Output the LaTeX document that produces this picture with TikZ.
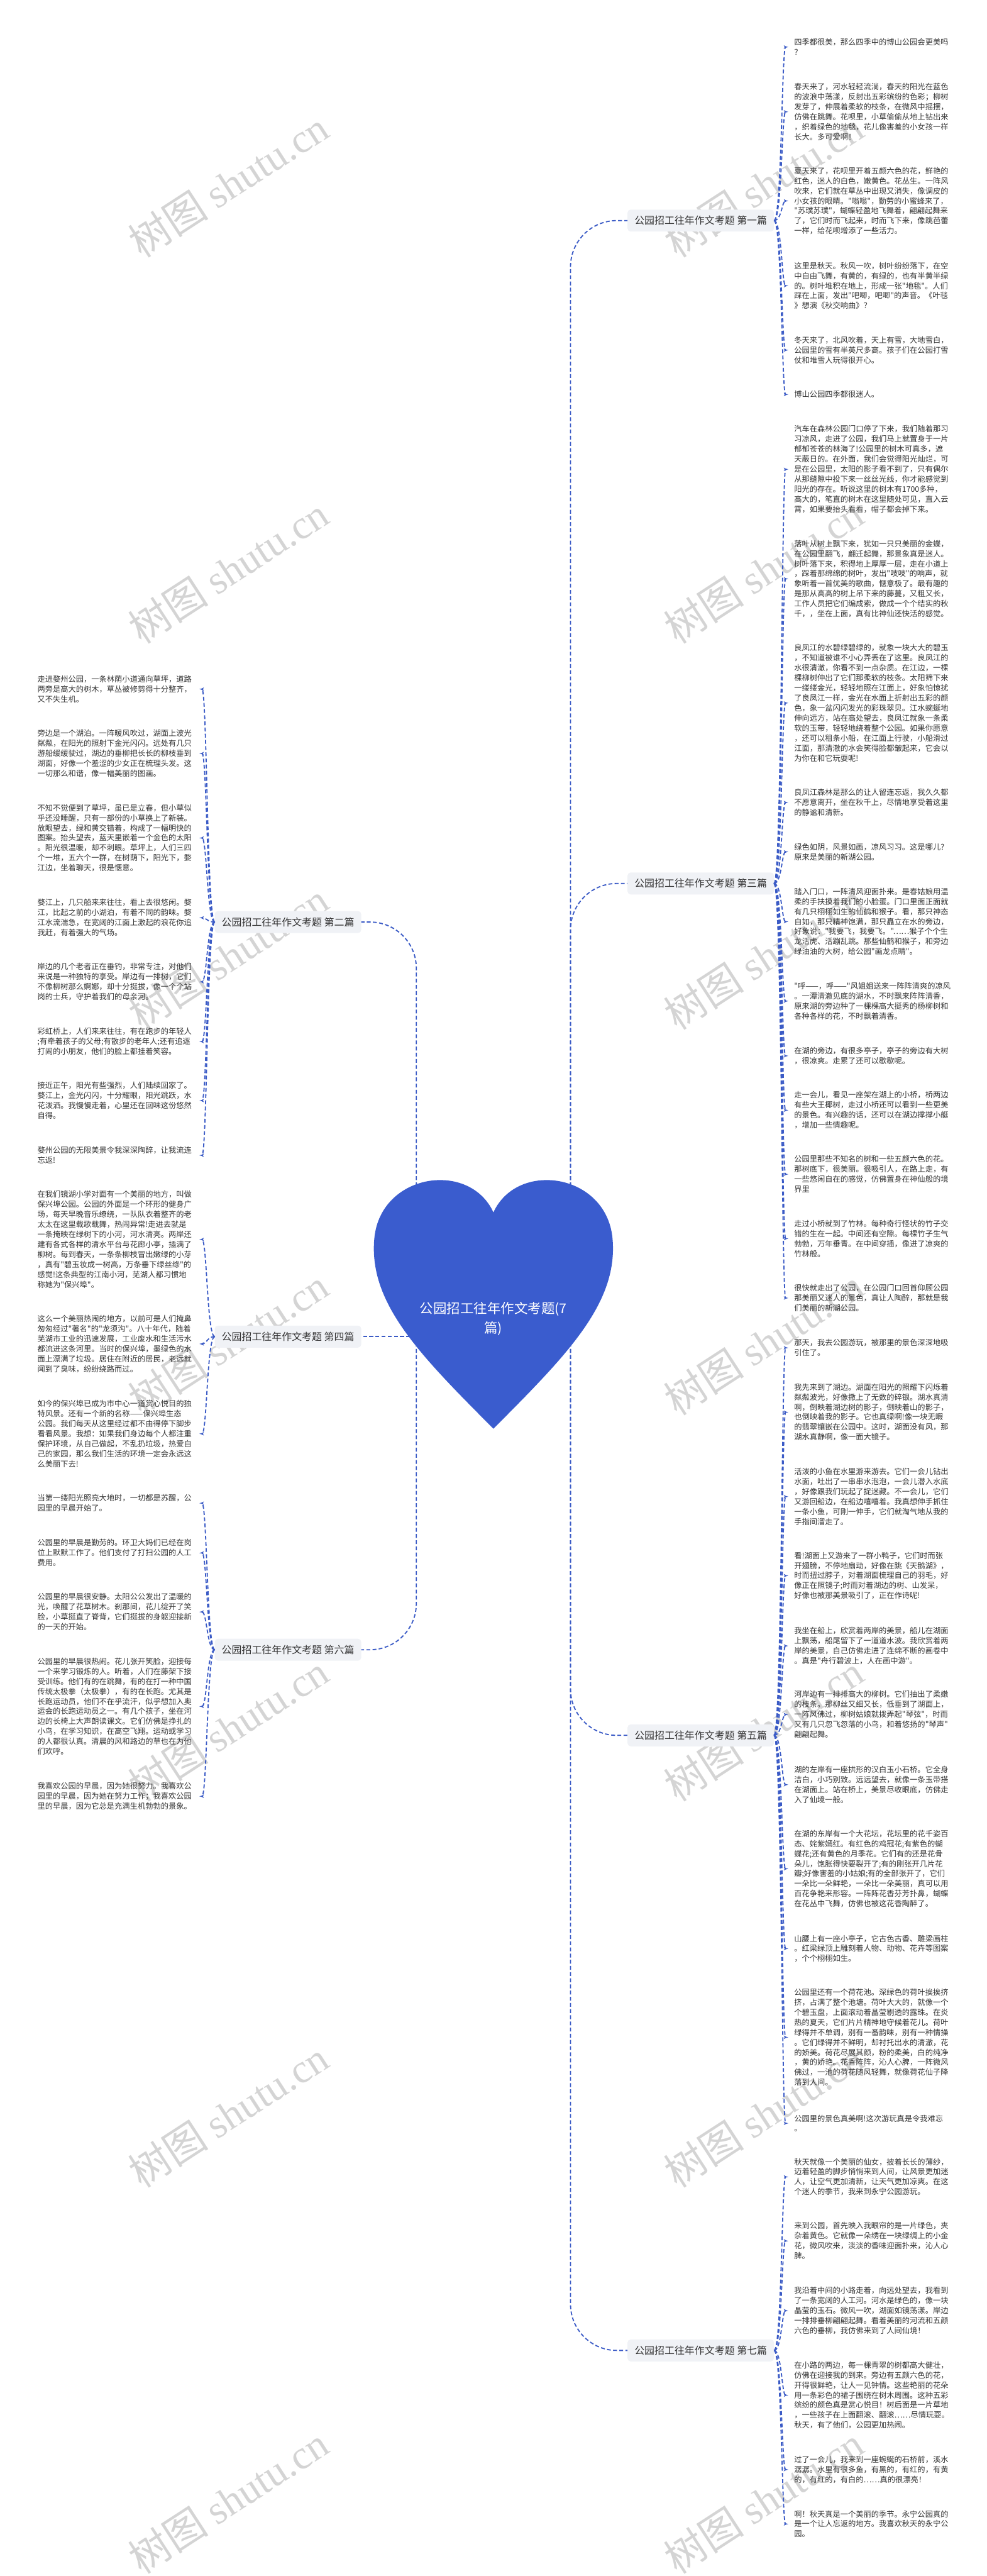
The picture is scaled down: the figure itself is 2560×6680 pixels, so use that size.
\documentclass[tikz,border=0pt]{standalone}
\usepackage{fontspec}
\usepackage{tikz}
\usetikzlibrary{arrows,positioning,calc}
\newfontfamily\cjk{Noto Sans CJK SC}
\newfontfamily\wmlatin{Liberation Serif}
\definecolor{heartblue}{RGB}{58,92,206}
\definecolor{linkblue}{RGB}{59,91,198}
\definecolor{txtgray}{RGB}{51,51,51}
\definecolor{boxgray}{RGB}{240,242,246}
\definecolor{wmgray}{RGB}{212,212,212}
\tikzset{
	leaf/.style = {font=\cjk\fontsize{20pt}{26pt}\selectfont, text=txtgray, align=left, anchor=west, inner sep=0pt},
	branch/.style = {font=\cjk\fontsize{26pt}{30pt}\selectfont, text=txtgray, fill=boxgray, rounded corners=8pt, inner xsep=18pt, inner ysep=0pt, minimum height=57pt},
	link/.style = {draw=linkblue, line width=3pt, dash pattern=on 10pt off 6pt},
	wmark/.style = {text=wmgray, rotate=33, font=\cjk\fontsize{105pt}{105pt}\selectfont},
	title/.style = {text=white, align=center, font=\cjk\fontsize{35pt}{50pt}\selectfont}
}
\begin{document}
\begin{tikzpicture}[x=1pt,y=-1pt,>=latex']
	\useasboundingbox (0,0) rectangle (2560,6680);

	\foreach \y in {478,1479,2480,3481,4482,5483,6484} {
		\node [wmark] (wl\y) at (592,\y) {树图 {\wmlatin shutu.cn}};
		\node [wmark] (wr\y) at (1981,\y) {树图 {\wmlatin shutu.cn}};
	}

	\node [branch, anchor=east] (b1) at (2008,572) {公园招工往年作文考题 第一篇};
	\node [branch, anchor=east] (b3) at (2008,2291) {公园招工往年作文考题 第三篇};
	\node [branch, anchor=east] (b5) at (2008,4500) {公园招工往年作文考题 第五篇};
	\node [branch, anchor=east] (b7) at (2008,6095) {公园招工往年作文考题 第七篇};
	\node [branch, anchor=west] (b2) at (557,2391) {公园招工往年作文考题 第二篇};
	\node [branch, anchor=west] (b4) at (557,3466) {公园招工往年作文考题 第四篇};
	\node [branch, anchor=west] (b6) at (557,4278) {公园招工往年作文考题 第六篇};

	\node [leaf] (r1) at (2060,122) {四季都很美，那么四季中的博山公园会更美吗\\？};
	\node [leaf] (r2) at (2060,290) {春天来了，河水轻轻流淌，春天的阳光在蓝色\\的波浪中荡漾，反射出五彩缤纷的色彩；柳树\\发芽了，伸展着柔软的枝条，在微风中摇摆，\\仿佛在跳舞。花呗里，小草偷偷从地上钻出来\\，织着绿色的地毯，花儿像害羞的小女孩一样\\长大。多可爱啊！};
	\node [leaf] (r3) at (2060,521) {夏天来了，花呗里开着五颜六色的花，鲜艳的\\红色，迷人的白色，嫩黄色。花丛生。一阵风\\吹来，它们就在草丛中出现又消失，像调皮的\\小女孩的眼睛。"嗡嗡"，勤劳的小蜜蜂来了，\\"苏璞苏璞"，蝴蝶轻盈地飞舞着，翩翩起舞来\\了，它们时而飞起来，时而飞下来，像跳芭蕾\\一样，给花呗增添了一些活力。};
	\node [leaf] (r4) at (2060,741) {这里是秋天。秋风一吹，树叶纷纷落下，在空\\中自由飞舞，有黄的，有绿的，也有半黄半绿\\的。树叶堆积在地上，形成一张"地毯"。人们\\踩在上面，发出"吧唧，吧唧"的声音。《叶毯\\》想演《秋交响曲》？};
	\node [leaf] (r5) at (2060,908) {冬天来了，北风吹着，天上有雪，大地雪白，\\公园里的雪有半英尺多高。孩子们在公园打雪\\仗和堆雪人玩得很开心。};
	\node [leaf] (r6) at (2060,1023) {博山公园四季都很迷人。};
	\node [leaf] (r7) at (2060,1217) {汽车在森林公园门口停了下来，我们随着那习\\习凉风，走进了公园，我们马上就置身于一片\\郁郁苍苍的林海了!公园里的树木可真多，遮\\天蔽日的。在外面，我们会觉得阳光灿烂，可\\是在公园里，太阳的影子看不到了，只有偶尔\\从那缝隙中投下来一丝丝光线，你才能感觉到\\阳光的存在。听说这里的树木有1700多种，\\高大的，笔直的树木在这里随处可见，直入云\\霄，如果要抬头看看，帽子都会掉下来。};
	\node [leaf] (r8) at (2060,1501) {落叶从树上飘下来，犹如一只只美丽的金蝶，\\在公园里翻飞，翩迁起舞，那景象真是迷人。\\树叶落下来，积得地上厚厚一层，走在小道上\\，踩着那绵绵的树叶，发出"吱吱"的响声，就\\象听着一首优美的歌曲，惬意极了。最有趣的\\是那从高高的树上吊下来的藤蔓，又粗又长，\\工作人员把它们编成索，做成一个个结实的秋\\千，，坐在上面，真有比神仙还快活的感觉。};
	\node [leaf] (r9) at (2060,1823) {良凤江的水碧绿碧绿的，就象一块大大的碧玉\\，不知道被谁不小心弄丢在了这里。良凤江的\\水很清澈，你看不到一点杂质。在江边，一棵\\棵柳树伸出了它们那柔软的枝条。太阳筛下来\\一缕缕金光，轻轻地照在江面上，好象怕惊扰\\了良凤江一样，金光在水面上折射出五彩的颜\\色，象一盆闪闪发光的彩珠翠贝。江水蜿蜒地\\伸向远方，站在高处望去，良凤江就象一条柔\\软的玉带，轻轻地绕着整个公园。如果你愿意\\，还可以租条小船，在江面上行驶，小船滑过\\江面，那清澈的水会笑得脸都皱起来，它会以\\为你在和它玩耍呢!};
	\node [leaf] (r10) at (2060,2081) {良凤江森林是那么的让人留连忘返，我久久都\\不愿意离开，坐在秋千上，尽情地享受着这里\\的静谧和清新。};
	\node [leaf] (r11) at (2060,2209) {绿色如阴，风景如画，凉风习习。这是哪儿?\\原来是美丽的新湖公园。};
	\node [leaf] (r12) at (2060,2390) {踏入门口，一阵清风迎面扑来。是春姑娘用温\\柔的手扶摸着我们的小脸蛋。门口里面正面就\\有几只栩栩如生的仙鹤和猴子。看，那只神态\\自如，那只精神饱满，那只矗立在水的旁边，\\好象说："我要飞，我要飞。"……猴子个个生\\龙活虎、活蹦乱跳。那些仙鹤和猴子，和旁边\\绿油油的大树，给公园"画龙点睛"。};
	\node [leaf] (r13) at (2060,2596) {"呼——，呼——"风姐姐送来一阵阵清爽的凉风\\。一潭清澈见底的湖水，不时飘来阵阵清香，\\原来湖的旁边种了一棵棵高大挺秀的杨柳树和\\各种各样的花，不时飘着清香。};
	\node [leaf] (r14) at (2060,2738) {在湖的旁边，有很多亭子，亭子的旁边有大树\\，很凉爽。走累了还可以歇歇呢。};
	\node [leaf] (r15) at (2060,2879) {走一会儿，看见一座架在湖上的小桥，桥两边\\有些大王椰树，走过小桥还可以看到一些更美\\的景色。有兴趣的话，还可以在湖边撑撑小艇\\，增加一些情趣呢。};
	\node [leaf] (r16) at (2060,3045) {公园里那些不知名的树和一些五颜六色的花。\\那树底下，很美丽。很吸引人，在路上走，有\\一些悠闲自在的感觉，仿佛置身在神仙般的境\\界里};
	\node [leaf] (r17) at (2060,3212) {走过小桥就到了竹林。每种奇行怪状的竹子交\\错的生在一起。中间还有空隙。每棵竹子生气\\勃勃，万年垂青。在中间穿插，像进了凉爽的\\竹林般。};
	\node [leaf] (r18) at (2060,3366) {很快就走出了公园，在公园门口回首仰顾公园\\那美丽又迷人的景色，真让人陶醉，那就是我\\们美丽的新湖公园。};
	\node [leaf] (r19) at (2060,3495) {那天，我去公园游玩，被那里的景色深深地吸\\引住了。};
	\node [leaf] (r20) at (2060,3662) {我先来到了湖边。湖面在阳光的照耀下闪烁着\\粼粼波光，好像撒上了无数的碎银。湖水真清\\啊，倒映着湖边树的影子，倒映着山的影子，\\也倒映着我的影子。它也真绿啊!像一块无暇\\的翡翠镶嵌在公园中。这时，湖面没有风，那\\湖水真静啊，像一面大镜子。};
	\node [leaf] (r21) at (2060,3881) {活泼的小鱼在水里游来游去。它们一会儿钻出\\水面，吐出了一串串水泡泡，一会儿潜入水底\\，好像跟我们玩起了捉迷藏。不一会儿，它们\\又游回船边，在船边嘻嘻着。我真想伸手抓住\\一条小鱼，可刚一伸手，它们就淘气地从我的\\手指间溜走了。};
	\node [leaf] (r22) at (2060,4086) {看!湖面上又游来了一群小鸭子，它们时而张\\开翅膀，不停地扇动，好像在跳《天鹅湖》，\\时而扭过脖子，对着湖面梳理自己的羽毛，好\\像正在照镜子;时而对着湖边的树、山发呆，\\好像也被那美景吸引了，正在作诗呢!};
	\node [leaf] (r23) at (2060,4268) {我坐在船上，欣赏着两岸的美景，船儿在湖面\\上飘荡，船尾留下了一道道水波。我欣赏着两\\岸的美景，自己仿佛走进了连绵不断的画卷中\\。真是"舟行碧波上，人在画中游"。};
	\node [leaf] (r24) at (2060,4446) {河岸边有一排排高大的柳树。它们抽出了柔嫩\\的枝条。那柳丝又细又长，低垂到了湖面上，\\一阵风佛过，柳树姑娘就拨弄起"琴弦"，时而\\又有几只忽飞忽落的小鸟，和着悠扬的"琴声"\\翩翩起舞。};
	\node [leaf] (r25) at (2060,4628) {湖的左岸有一座拱形的汉白玉小石桥。它全身\\洁白，小巧别致。远远望去，就像一条玉带搭\\在湖面上。站在桥上，美景尽收眼底，仿佛走\\入了仙境一般。};
	\node [leaf] (r26) at (2060,4846) {在湖的东岸有一个大花坛，花坛里的花千姿百\\态、姹紫嫣红。有红色的鸡冠花;有紫色的蝴\\蝶花;还有黄色的月季花。它们有的还是花骨\\朵儿，饱胀得快要裂开了;有的刚张开几片花\\瓣;好像害羞的小姑娘;有的全部张开了，它们\\一朵比一朵鲜艳，一朵比一朵美丽，真可以用\\百花争艳来形容。一阵阵花香芬芳扑鼻，蝴蝶\\在花丛中飞舞，仿佛也被这花香陶醉了。};
	\node [leaf] (r27) at (2060,5053) {山腰上有一座小亭子，它古色古香、雕梁画柱\\。红梁绿顶上雕刻着人物、动物、花卉等图案\\，个个栩栩如生。};
	\node [leaf] (r28) at (2060,5283) {公园里还有一个荷花池。深绿色的荷叶挨挨挤\\挤，占满了整个池塘。荷叶大大的，就像一个\\个碧玉盘，上面滚动着晶莹剔透的露珠。在炎\\热的夏天，它们片片精神地守候着花儿。荷叶\\绿得并不单调，别有一番韵味，别有一种情操\\。它们绿得并不鲜明，却衬托出水的清澈，花\\的娇美。荷花尽展其颜，粉的柔美，白的纯净\\，黄的娇艳。花香阵阵，沁人心脾，一阵微风\\佛过，一池的荷花随风轻舞，就像荷花仙子降\\落到人间。};
	\node [leaf] (r29) at (2060,5506) {公园里的景色真美啊!这次游玩真是令我难忘\\。};
	\node [leaf] (r30) at (2060,5645) {秋天就像一个美丽的仙女，披着长长的薄纱，\\迈着轻盈的脚步悄悄来到人间，让风景更加迷\\人，让空气更加清新，让天气更加凉爽。在这\\个迷人的季节，我来到永宁公园游玩。};
	\node [leaf] (r31) at (2060,5811) {来到公园，首先映入我眼帘的是一片绿色，夹\\杂着黄色。它就像一朵绣在一块绿绸上的小金\\花，微风吹来，淡淡的香味迎面扑来，沁人心\\脾。};
	\node [leaf] (r32) at (2060,5992) {我沿着中间的小路走着，向远处望去，我看到\\了一条宽阔的人工河。河水是绿色的，像一块\\晶莹的玉石。微风一吹，湖面如镜荡漾。岸边\\一排排垂柳翩翩起舞。看着美丽的河流和五颜\\六色的垂柳，我仿佛来到了人间仙境！};
	\node [leaf] (r33) at (2060,6211) {在小路的两边，每一棵青翠的树都高大健壮，\\仿佛在迎接我的到来。旁边有五颜六色的花，\\开得很鲜艳，让人一见钟情。这些艳丽的花朵\\用一条彩色的裙子围绕在树木周围。这种五彩\\缤纷的颜色真是赏心悦目！树后面是一片草地\\，一些孩子在上面翻滚、翻滚……尽情玩耍。\\秋天，有了他们，公园更加热闹。};
	\node [leaf] (r34) at (2060,6404) {过了一会儿，我来到一座蜿蜒的石桥前，溪水\\潺潺。水里有很多鱼，有黑的，有红的，有黄\\的，有红的，有白的……真的很漂亮！};
	\node [leaf] (r35) at (2060,6545) {啊！秋天真是一个美丽的季节。永宁公园真的\\是一个让人忘返的地方。我喜欢秋天的永宁公\\园。};

	\node [leaf] (l1) at (97,1787) {走进婺州公园，一条林荫小道通向草坪，道路\\两旁是高大的树木，草丛被修剪得十分整齐，\\又不失生机。};
	\node [leaf] (l2) at (97,1954) {旁边是一个湖泊。一阵暖风吹过，湖面上波光\\粼粼，在阳光的照射下金光闪闪。远处有几只\\游船缓缓驶过，湖边的垂柳把长长的柳枝垂到\\湖面，好像一个羞涩的少女正在梳理头发。这\\一切那么和谐，像一幅美丽的图画。};
	\node [leaf] (l3) at (97,2173) {不知不觉便到了草坪，虽已是立春，但小草似\\乎还没睡醒，只有一部份的小草换上了新装。\\放眼望去，绿和黄交错着，构成了一幅明快的\\图案。抬头望去，蓝天里嵌着一个金色的太阳\\。阳光很温暖，却不刺眼。草坪上，人们三四\\个一堆，五六个一群，在树荫下，阳光下，婺\\江边，坐着聊天，很是惬意。};
	\node [leaf] (l4) at (97,2380) {婺江上，几只船来来往往，看上去很悠闲。婺\\江，比起之前的小湖泊，有着不同的韵味。婺\\江水流湍急，在宽阔的江面上激起的浪花你追\\我赶，有着强大的气场。};
	\node [leaf] (l5) at (97,2546) {岸边的几个老者正在垂钓，非常专注，对他们\\来说是一种独特的享受。岸边有一排树，它们\\不像柳树那么婀娜，却十分挺拔，像一个个站\\岗的士兵，守护着我们的母亲河。};
	\node [leaf] (l6) at (97,2701) {彩虹桥上，人们来来往往，有在跑步的年轻人\\;有牵着孩子的父母;有散步的老年人;还有追逐\\打闹的小朋友，他们的脸上都挂着笑容。};
	\node [leaf] (l7) at (97,2854) {接近正午，阳光有些强烈，人们陆续回家了。\\婺江上，金光闪闪，十分耀眼，阳光跳跃，水\\花泼洒。我慢慢走着，心里还在回味这份悠然\\自得。};
	\node [leaf] (l8) at (97,2996) {婺州公园的无限美景令我深深陶醉，让我流连\\忘返!};
	\node [leaf] (l9) at (97,3214) {在我们镜湖小学对面有一个美丽的地方，叫做\\保兴埠公园。公园的外面是一个环形的健身广\\场，每天早晚音乐缭绕，一队队衣着整齐的老\\太太在这里载歌载舞，热闹异常!走进去就是\\一条掩映在绿树下的小河，河水清亮。两岸还\\建有各式各样的清水平台与花廊小亭，插满了\\柳树。每到春天，一条条柳枝冒出嫩绿的小芽\\，真有"碧玉妆成一树高，万条垂下绿丝绦"的\\感觉!这条典型的江南小河，芜湖人都习惯地\\称她为"保兴埠"。};
	\node [leaf] (l10) at (97,3485) {这么一个美丽热闹的地方，以前可是人们掩鼻\\匆匆经过"著名"的"龙须沟"。八十年代，随着\\芜湖市工业的迅速发展，工业废水和生活污水\\都流进这条河里。当时的保兴埠，墨绿色的水\\面上漂满了垃圾。居住在附近的居民，老远就\\闻到了臭味，纷纷绕路而过。};
	\node [leaf] (l11) at (97,3718) {如今的保兴埠已成为市中心一道赏心悦目的独\\特风景。还有一个新的名称——保兴埠生态\\公园。我们每天从这里经过都不由得停下脚步\\看看风景。我想：如果我们身边每个人都注重\\保护环境，从自己做起，不乱扔垃圾，热爱自\\己的家园，那么我们生活的环境一定会永远这\\么美丽下去!};
	\node [leaf] (l12) at (97,3898) {当第一缕阳光照亮大地时，一切都是苏醒，公\\园里的早晨开始了。};
	\node [leaf] (l13) at (97,4027) {公园里的早晨是勤劳的。环卫大妈们已经在岗\\位上默默工作了。他们支付了打扫公园的人工\\费用。};
	\node [leaf] (l14) at (97,4180) {公园里的早晨很安静。太阳公公发出了温暖的\\光，唤醒了花草树木。刹那间，花儿绽开了笑\\脸，小草挺直了脊背，它们挺拔的身躯迎接新\\的一天的开始。};
	\node [leaf] (l15) at (97,4425) {公园里的早晨很热闹。花儿张开笑脸，迎接每\\一个来学习锻炼的人。听着，人们在藤架下接\\受训练。他们有的在跳舞，有的在打一种中国\\传统太极拳（太极拳），有的在长跑。尤其是\\长跑运动员，他们不在乎流汗，似乎想加入奥\\运会的长跑运动员之一。有几个孩子，坐在河\\边的长椅上大声朗读课文。它们仿佛是挣扎的\\小鸟，在学习知识，在高空飞翔。运动或学习\\的人都很认真。清晨的风和路边的草也在为他\\们欢呼。};
	\node [leaf] (l16) at (97,4658) {我喜欢公园的早晨，因为她很努力。我喜欢公\\园里的早晨，因为她在努力工作；我喜欢公园\\里的早晨，因为它总是充满生机勃勃的景象。};

	\foreach \i in {1,...,6} \draw [link,->] (b1.east) .. controls +(20,0) and +(-17,0) .. ([xshift=-15pt]r\i.west);
	\foreach \i in {7,...,18} \draw [link,->] (b3.east) .. controls +(20,0) and +(-17,0) .. ([xshift=-15pt]r\i.west);
	\foreach \i in {19,...,29} \draw [link,->] (b5.east) .. controls +(20,0) and +(-17,0) .. ([xshift=-15pt]r\i.west);
	\foreach \i in {30,...,35} \draw [link,->] (b7.east) .. controls +(20,0) and +(-17,0) .. ([xshift=-15pt]r\i.west);
	\foreach \i in {1,...,8} \draw [link,->] (b2.west) .. controls +(-20,0) and +(20,0) .. ([xshift=420pt]l\i.west);
	\foreach \i in {9,...,11} \draw [link,->] (b4.west) .. controls +(-20,0) and +(20,0) .. ([xshift=420pt]l\i.west);
	\foreach \i in {12,...,16} \draw [link,->] (b6.west) .. controls +(-20,0) and +(20,0) .. ([xshift=420pt]l\i.west);

	\coordinate (hru) at (1480,3300);
	\coordinate (hrd) at (1480,3450);
	\coordinate (hlu) at (1080,3300);
	\coordinate (hlm) at (1080,3466);
	\coordinate (hld) at (1080,3450);
	\draw [link, rounded corners=120pt] (hru) |- (b1.west);
	\draw [link, rounded corners=120pt] (hru) |- (b3.west);
	\draw [link, rounded corners=120pt] (hrd) |- (b5.west);
	\draw [link, rounded corners=120pt] (hrd) |- (b7.west);
	\draw [link, rounded corners=120pt] (hlu) |- (b2.east);
	\draw [link] (hlm) -- (b4.east);
	\draw [link, rounded corners=120pt] (hld) |- (b6.east);

	\begin{scope}[shift={(1280,3365)}, x=309pt, y=340pt]
		\fill [heartblue] (0,-1) .. controls (-0.6,-0.45) and (-1.05,-0.05) .. (-1,0.45) .. controls (-0.95,0.95) and (-0.2,1.05) .. (0,0.65) .. controls (0.2,1.05) and (0.95,0.95) .. (1,0.45) .. controls (1.05,-0.05) and (0.6,-0.45) .. (0,-1) -- cycle;
	\end{scope}
	\node [title] (root) at (1280,3420) {公园招工往年作文考题(7\\篇)};
\end{tikzpicture}
\end{document}
